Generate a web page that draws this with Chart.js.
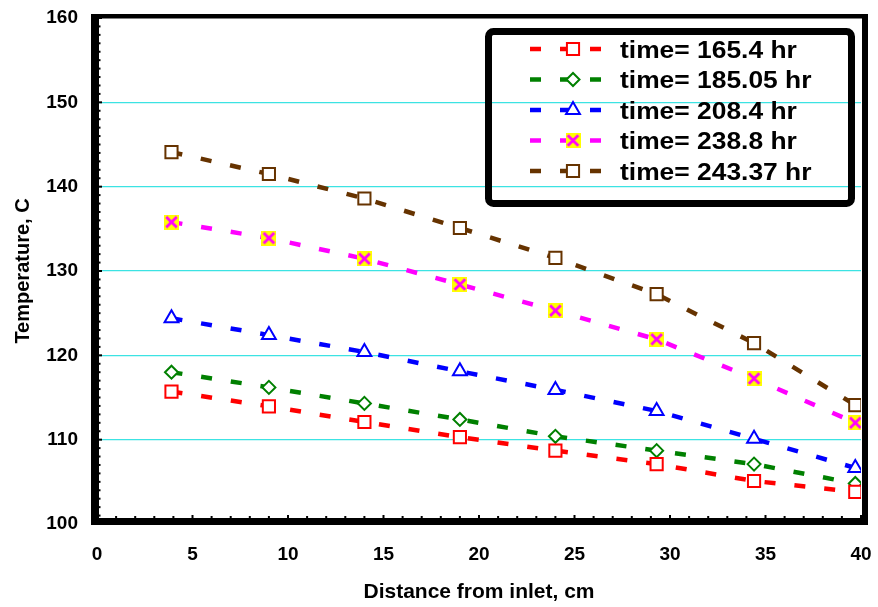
<!DOCTYPE html>
<html><head><meta charset="utf-8">
<script src="https://cdn.jsdelivr.net/npm/chart.js@4.4.1/dist/chart.umd.min.js"></script>
<style>html,body{margin:0;padding:0;background:#fff;}canvas{display:block;}</style>
</head><body>
<canvas id="c" width="878" height="607"></canvas>
<script>
// ---- data ----
const distances = [3.9, 9, 14, 19, 24, 29.3, 34.4, 39.7];
const seriesLabels = ['time= 165.4 hr', 'time= 185.05 hr', 'time= 208.4 hr', 'time= 238.8 hr', 'time= 243.37 hr'];
const temp165 = [115.7, 113.95, 112.1, 110.3, 108.7, 107.1, 105.1, 103.8];
const temp185 = [118.0, 116.2, 114.3, 112.4, 110.4, 108.7, 107.1, 104.8];
const temp208 = [124.4, 122.4, 120.4, 118.1, 115.9, 113.4, 110.1, 106.65];
const temp238 = [135.8, 133.9, 131.45, 128.4, 125.3, 121.9, 117.25, 112.0];
const temp243 = [144.1, 141.5, 138.6, 135.1, 131.55, 127.25, 121.45, 114.1];
const xTickValues = [0, 5, 10, 15, 20, 25, 30, 35, 40];
const yTickValues = [100, 110, 120, 130, 140, 150, 160];

const FONT = "'Liberation Sans', Arial, sans-serif";

function xMarkerImage() {
  const c = document.createElement('canvas');
  c.width = 15; c.height = 15;
  const g = c.getContext('2d');
  g.fillStyle = '#FFFF00';
  g.fillRect(0, 0, 15, 15);
  g.strokeStyle = '#FF00FF';
  g.lineWidth = 2.8;
  g.beginPath();
  g.moveTo(2.2, 2.2); g.lineTo(12.8, 12.8);
  g.moveTo(12.8, 2.2); g.lineTo(2.2, 12.8);
  g.stroke();
  return c;
}
const xImg = xMarkerImage();

function pts(arr) { return distances.map((d, i) => ({ x: d, y: arr[i] })); }

function ds(label, values, color, style, radius) {
  return {
    label, data: pts(values),
    borderColor: color, borderWidth: 4.5, borderDash: [11, 19], borderCapStyle: 'butt',
    tension: 0, fill: false,
    pointStyle: style, pointRadius: radius, pointBorderWidth: 2,
    pointBorderColor: color, pointBackgroundColor: '#FFFFFF'
  };
}

const datasets = [
  ds(seriesLabels[0], temp165, '#FF0000', 'rect', 8.6),
  ds(seriesLabels[1], temp185, '#008000', 'rectRot', 6.5),
  ds(seriesLabels[2], temp208, '#0000FF', 'triangle', 8),
  ds(seriesLabels[3], temp238, '#FF00FF', xImg, 8),
  ds(seriesLabels[4], temp243, '#663300', 'rect', 8.6)
];

function drawMarker(ctx, d, x, y) {
  const st = d.pointStyle, r = d.pointRadius;
  if (st instanceof HTMLCanvasElement) {
    ctx.drawImage(st, x - st.width / 2, y - st.height / 2);
    return;
  }
  ctx.save();
  ctx.setLineDash([]);
  ctx.lineWidth = d.pointBorderWidth;
  ctx.strokeStyle = d.pointBorderColor;
  ctx.fillStyle = d.pointBackgroundColor;
  ctx.beginPath();
  if (st === 'rect') {
    const s = Math.SQRT1_2 * r;
    ctx.rect(x - s, y - s, 2 * s, 2 * s);
  } else if (st === 'rectRot') {
    ctx.moveTo(x - r, y); ctx.lineTo(x, y - r); ctx.lineTo(x + r, y); ctx.lineTo(x, y + r); ctx.closePath();
  } else if (st === 'triangle') {
    ctx.moveTo(x, y - r);
    ctx.lineTo(x + r * Math.cos(Math.PI / 6), y + r / 2);
    ctx.lineTo(x - r * Math.cos(Math.PI / 6), y + r / 2);
    ctx.closePath();
  }
  ctx.fill(); ctx.stroke();
  ctx.restore();
}

const framePlugin = {
  id: 'frame',
  afterDraw(chart) {
    const ctx = chart.ctx;
    const xs = chart.scales.x, ys = chart.scales.y;
    const a = chart.chartArea;
    ctx.save();
    ctx.fillStyle = '#000';
    for (let v = 100; v <= 160; v++) {
      const y = ys.getPixelForValue(v);
      ctx.fillRect(a.left + 1, y - 1, (v % 10 === 0) ? 4 : 2.5, 2);
    }
    for (let v = 0; v <= 40; v++) {
      const x = xs.getPixelForValue(v);
      ctx.fillRect(x - 1, a.bottom - ((v % 5 === 0) ? 9 : 8), 2, 3);
    }
    ctx.fillRect(a.left - 6, a.top - 4, 8, a.bottom - a.top + 5);        // left
    ctx.fillRect(a.left - 6, a.top - 4, a.right - a.left + 13, 4.5);      // top
    ctx.fillRect(a.right + 1, a.top - 4, 6, a.bottom - a.top + 5);        // right
    ctx.fillRect(a.left - 6, a.bottom - 6, a.right - a.left + 13, 7);     // bottom
    ctx.restore();
  }
};

const legendPlugin = {
  id: 'customLegend',
  afterDraw(chart) {
    const ctx = chart.ctx;
    ctx.save();
    ctx.lineWidth = 7;
    ctx.strokeStyle = '#000';
    ctx.beginPath();
    ctx.roundRect(488.5, 31.5, 363, 172, 5);
    ctx.stroke();
    const rows = [49, 79.5, 110, 140.5, 171];
    chart.data.datasets.forEach((d, i) => {
      const y = rows[i];
      ctx.save();
      ctx.strokeStyle = d.borderColor;
      ctx.lineWidth = d.borderWidth;
      ctx.setLineDash(d.borderDash);
      ctx.lineDashOffset = 0;
      ctx.beginPath();
      ctx.moveTo(530, y); ctx.lineTo(603, y);
      ctx.stroke();
      ctx.restore();
      drawMarker(ctx, d, 573, y);
      ctx.save();
      ctx.translate(620, y + 2);
      ctx.scale(1.1, 1);
      ctx.fillStyle = '#000';
      ctx.font = 'bold 24px ' + FONT;
      ctx.textBaseline = 'middle';
      ctx.textAlign = 'left';
      ctx.fillText(d.label, 0, 0);
      ctx.restore();
    });
    ctx.restore();
  }
};

function zeroPad(s) { s.paddingTop = 0; s.paddingBottom = 0; s.paddingLeft = 0; s.paddingRight = 0; }

new Chart(document.getElementById('c'), {
  type: 'line',
  data: { datasets },
  options: {
    responsive: false, animation: false, devicePixelRatio: 1,
    layout: { padding: { left: 0, top: 18, right: 17, bottom: 0 } },
    plugins: { legend: { display: false }, tooltip: { enabled: false } },
    scales: {
      x: {
        type: 'linear', min: 0, max: 40,
        afterBuildTicks: s => { s.ticks = xTickValues.map(v => ({ value: v })); },
        afterFit: s => { s.height = 83; zeroPad(s); },
        grid: { display: false, drawTicks: false },
        border: { display: false },
        ticks: { font: { family: FONT, weight: 'bold', size: 19 }, color: '#000', padding: 19, maxRotation: 0, autoSkip: false },
        title: { display: true, text: 'Distance from inlet, cm', color: '#000',
                 font: { family: FONT, weight: 'bold', size: 21 }, padding: { top: 0, bottom: 2 } }
      },
      y: {
        type: 'linear', min: 100, max: 160,
        afterBuildTicks: s => { s.ticks = yTickValues.map(v => ({ value: v })); },
        afterFit: s => { s.width = 97; zeroPad(s); },
        grid: {
          drawTicks: false, lineWidth: 1.2,
          color: c => (c.tick && (c.tick.value === 100 || c.tick.value === 160)) ? 'rgba(0,0,0,0)' : '#3CE3E3'
        },
        border: { display: false },
        ticks: { font: { family: FONT, weight: 'bold', size: 19 }, color: '#000', padding: 19 },
        title: { display: true, text: 'Temperature, C', color: '#000',
                 font: { family: FONT, weight: 'bold', size: 20 }, padding: { top: 11, bottom: 0 } }
      }
    }
  },
  plugins: [framePlugin, legendPlugin]
});
</script>
</body></html>
